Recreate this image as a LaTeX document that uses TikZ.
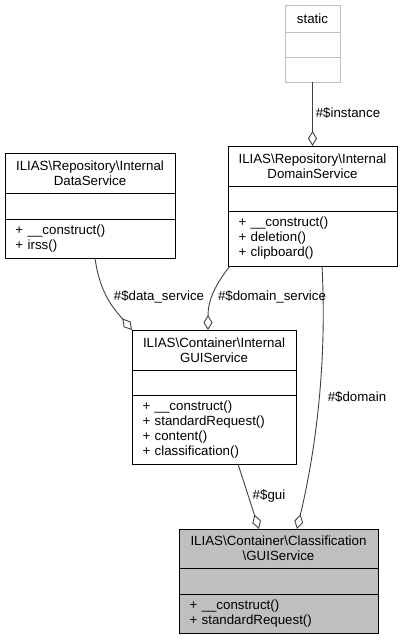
\documentclass[tikz,border=0pt]{standalone}
\usepackage{fontspec}
\setmainfont{Liberation Sans}
\usetikzlibrary{arrows.meta,positioning}

\begin{document}
\begin{tikzpicture}[x=1pt,y=-1pt]
\tikzstyle{every node}=[outer sep=0pt, inner sep=0pt, font=\fontsize{13.3}{15}\selectfont]
\tikzstyle{head}=[draw, line width=1pt, anchor=north west, align=center]
\tikzstyle{part}=[draw, line width=1pt]
\tikzstyle{meth}=[draw, line width=1pt, inner xsep=10.5pt, align=left]
\tikzstyle{agg}=[line width=0.9pt, black!75, -{Diamond[open,length=15pt,width=9pt]}]
\useasboundingbox (0,0) rectangle (403,640);
\node (stH) [head, draw=black!25, minimum width=55pt, minimum height=27pt] at (285,5) {static};
\node (stA) [part, draw=black!25, minimum width=55pt, minimum height=25pt, below=0pt of stH] {};
\node (stM) [part, draw=black!25, minimum width=55pt, minimum height=25pt, below=0pt of stA] {};
\node (dsH) [head, minimum width=170pt, minimum height=40pt] at (5,153) {ILIAS\textbackslash Repository\textbackslash Internal\\DataService};
\node (dsA) [part, minimum width=170pt, minimum height=26pt, below=0pt of dsH] {};
\node (dsM) [meth, text width=149pt, minimum height=39pt, below=0pt of dsA] {+ \_\_construct()\\+ irss()};
\node (domH) [head, minimum width=169pt, minimum height=40pt] at (228,146) {ILIAS\textbackslash Repository\textbackslash Internal\\DomainService};
\node (domA) [part, minimum width=169pt, minimum height=25pt, below=0pt of domH] {};
\node (domM) [meth, text width=148pt, minimum height=55pt, below=0pt of domA] {+ \_\_construct()\\+ deletion()\\+ clipboard()};
\node (guiH) [head, minimum width=164pt, minimum height=40pt] at (132,330) {ILIAS\textbackslash Container\textbackslash Internal\\GUIService};
\node (guiA) [part, minimum width=164pt, minimum height=25pt, below=0pt of guiH] {};
\node (guiM) [meth, text width=143pt, minimum height=69pt, below=0pt of guiA] {+ \_\_construct()\\+ standardRequest()\\+ content()\\+ classification()};
\node (clsH) [head, fill=black!25, minimum width=199pt, minimum height=39pt] at (179,529) {ILIAS\textbackslash Container\textbackslash Classification\\\textbackslash GUIService};
\node (clsA) [part, fill=black!25, minimum width=199pt, minimum height=26pt, below=0pt of clsH] {};
\node (clsM) [meth, fill=black!25, text width=178pt, minimum height=39pt, below=0pt of clsA] {+ \_\_construct()\\+ standardRequest()};
\draw[agg] (stM.south) -- (domH.north);
\draw[agg] ([xshift=5pt]dsM.south) .. controls +(5,37) and +(-17,-20) .. (guiH.north west);
\draw[agg] ([xshift=2pt]domM.south west) .. controls +(-15,19) and +(0,-30) .. ([xshift=-6pt]guiH.north);
\draw[agg] ([xshift=9.5pt]domM.south) .. controls +(6,114) and +(14,-59) .. ([xshift=18.5pt]clsH.north);
\draw[agg] ([xshift=24pt]guiM.south) -- ([xshift=-19.5pt]clsH.north);
\node (lInst) at (348,113) {\#\$instance};
\node (lData) at (159,297) {\#\$data\_service};
\node (lDom) at (272,297) {\#\$domain\_service};
\node (lDomain) at (357,397) {\#\$domain};
\node (lGui) at (269,496) {\#\$gui};
\end{tikzpicture}
\end{document}
